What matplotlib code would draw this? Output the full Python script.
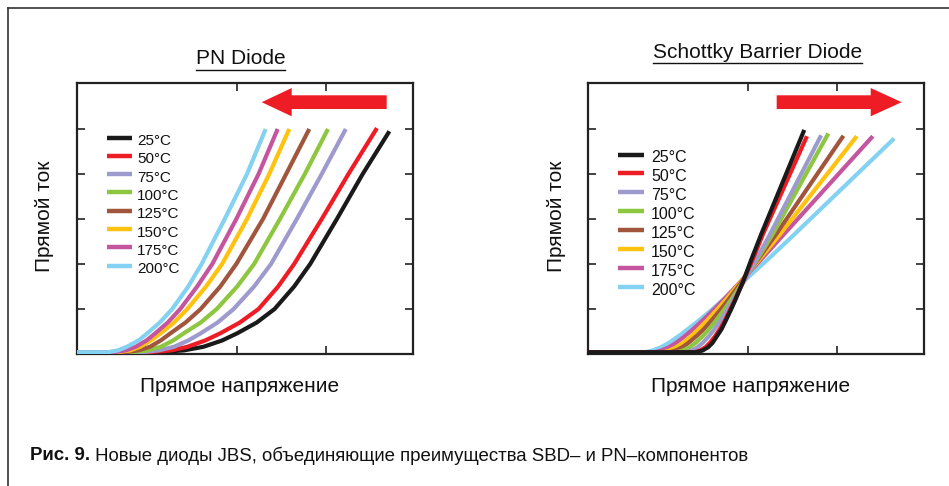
import matplotlib
matplotlib.use("Agg")
import matplotlib.pyplot as plt
from matplotlib.lines import Line2D
from matplotlib.patches import Polygon

W, H = 949, 486
plt.rcParams['font.family'] = ['Liberation Sans', 'DejaVu Sans']

temps = ["25°C", "50°C", "75°C", "100°C", "125°C", "150°C", "175°C", "200°C"]
colors = ["#1a1a1a", "#ee1c25", "#9d9ace", "#8dc63f", "#a0553c", "#ffc20e", "#c4559e", "#84d2f2"]

# PN diode: common current levels, forward voltage per temperature
pn_y = [0.04, 0.04, 0.08, 0.16, 0.3, 0.46, 0.7, 1.0, 1.5, 2.0, 3.0, 4.0, 5.0]
pn_x = {
    "25°C":  [0.2, 1.10, 1.40, 1.62, 1.83, 2.00, 2.22, 2.42, 2.64, 2.82, 3.12, 3.41, 3.71],
    "50°C":  [0.2, 1.00, 1.26, 1.44, 1.64, 1.81, 2.03, 2.24, 2.46, 2.64, 2.95, 3.25, 3.57],
    "75°C":  [0.2, 0.92, 1.12, 1.29, 1.45, 1.59, 1.78, 1.96, 2.19, 2.38, 2.67, 2.95, 3.22],
    "100°C": [0.2, 0.82, 0.99, 1.14, 1.28, 1.40, 1.59, 1.77, 2.00, 2.19, 2.48, 2.76, 3.02],
    "125°C": [0.2, 0.74, 0.89, 1.02, 1.14, 1.25, 1.42, 1.59, 1.81, 1.99, 2.29, 2.55, 2.81],
    "150°C": [0.2, 0.66, 0.80, 0.91, 1.03, 1.14, 1.29, 1.44, 1.65, 1.83, 2.11, 2.36, 2.585],
    "175°C": [0.2, 0.62, 0.75, 0.86, 0.98, 1.08, 1.22, 1.36, 1.55, 1.72, 1.99, 2.24, 2.455],
    "200°C": [0.2, 0.55, 0.66, 0.76, 0.89, 0.99, 1.13, 1.27, 1.45, 1.60, 1.86, 2.11, 2.32],
}
pn_top = {"25°C": 4.95, "50°C": 5.02}

# Schottky barrier diode
sbd_y = [0.04, 0.04, 0.08, 0.15, 0.25, 0.40, 0.55, 0.75, 1.0, 1.2, 1.6, 2.1, 2.68]
sbd_x = {
    "25°C":  [0.2, 1.42, 1.49, 1.55, 1.60, 1.65, 1.70, 1.75, 1.81, 1.855, 1.94, 2.035, 2.15, 2.63],
    "50°C":  [0.2, 1.40, 1.46, 1.52, 1.57, 1.63, 1.68, 1.74, 1.80, 1.85, 1.94, 2.05, 2.17, 2.66],
    "75°C":  [0.2, 1.30, 1.37, 1.43, 1.49, 1.56, 1.62, 1.69, 1.77, 1.83, 1.95, 2.09, 2.25, 2.82],
    "100°C": [0.2, 1.20, 1.27, 1.34, 1.41, 1.49, 1.56, 1.64, 1.735, 1.805, 1.94, 2.10, 2.28, 2.90],
    "125°C": [0.2, 1.12, 1.19, 1.26, 1.33, 1.42, 1.50, 1.59, 1.695, 1.775, 1.925, 2.11, 2.32, 3.07],
    "150°C": [0.2, 1.05, 1.12, 1.19, 1.27, 1.36, 1.44, 1.54, 1.655, 1.745, 1.915, 2.125, 2.365, 3.22],
    "175°C": [0.2, 0.95, 1.03, 1.11, 1.19, 1.29, 1.38, 1.49, 1.62, 1.72, 1.91, 2.145, 2.41, 3.40],
    "200°C": [0.2, 0.84, 0.93, 1.02, 1.11, 1.22, 1.32, 1.45, 1.60, 1.715, 1.94, 2.22, 2.53, 3.64],
}
sbd_top = {"25°C": 4.98, "50°C": 4.84, "75°C": 4.86, "100°C": 4.90,
           "125°C": 4.85, "150°C": 4.84, "175°C": 4.84, "200°C": 4.79}

x_ticks = [2, 3]
y_ticks = [1, 2, 3, 4, 5]
titles = ["PN Diode", "Schottky Barrier Diode"]
ylabel = "Прямой ток"
xlabel = "Прямое напряжение"
caption_bold = "Рис. 9."
caption_text = " Новые диоды JBS, объединяющие преимущества SBD– и PN–компонентов"

fig = plt.figure(figsize=(W / 100, H / 100), dpi=100)
fig.patch.set_facecolor("white")


def fx(x):
    return x / W


def fy(y):
    return 1 - y / H


def make_ax(left_px):
    ax = fig.add_axes([fx(left_px), fy(354), 336 / W, 271 / H])
    ax.set_xlim(0.2, 0.2 + 336 / 89)
    ax.set_ylim(0, 271 / 45)
    ax.set_xticks(x_ticks)
    ax.set_yticks(y_ticks)
    ax.tick_params(direction="in", length=6, width=1.2, top=True, right=True,
                   labelbottom=False, labelleft=False, color="#222222")
    for s in ax.spines.values():
        s.set_linewidth(1.6)
        s.set_color("#222222")
    return ax


ax1 = make_ax(77)
ax2 = make_ax(588)

for t, c in zip(temps, colors):
    ys = list(pn_y)
    ys[-1] = pn_top.get(t, 5.0)
    ax1.plot(pn_x[t], ys, color=c, lw=3.0, solid_capstyle="butt",
             solid_joinstyle="round", zorder=3)

for t, c in reversed(list(zip(temps, colors))):
    ys = sbd_y + [sbd_top[t]]
    ax2.plot(sbd_x[t], ys, color=c, lw=3.0, solid_capstyle="butt",
             solid_joinstyle="round", zorder=3)


# legends
def legend(x0, x1, xt, y0, dy, fs):
    for i, (t, c) in enumerate(zip(temps, colors)):
        yy = y0 + i * dy
        fig.add_artist(Line2D([fx(x0), fx(x1)], [fy(yy), fy(yy)], color=c, lw=3.2,
                              transform=fig.transFigure, solid_capstyle="butt"))
        fig.text(fx(xt), fy(yy + 3.5), t, fontsize=fs, ha="left", va="center", color="#111111")


legend(107, 132, 137, 137.5, 18.3, 11)
legend(618, 644, 651, 154.5, 18.9, 11.5)

# arrows
red = "#ee1c25"
arr_left = [(386.7, 95.3), (291.7, 95.3), (291.7, 88), (261.7, 102.2), (291.7, 116.3),
            (291.7, 109), (386.7, 109)]
arr_right = [(776.7, 95.3), (870.7, 95.3), (870.7, 88), (901.7, 102.2), (870.7, 116.3),
             (870.7, 109), (776.7, 109)]
for pts in (arr_left, arr_right):
    fig.add_artist(Polygon([(fx(a), fy(b)) for a, b in pts], closed=True,
                           transform=fig.transFigure, facecolor=red, edgecolor="none"))

# titles with underline
fig.canvas.draw()
renderer = fig.canvas.get_renderer()
for cx, cy, uy, t in ((240.5, 59, 70, titles[0]), (757.5, 52, 63.5, titles[1])):
    txt = fig.text(fx(cx), fy(cy), t, fontsize=15, ha="center", va="center", color="#111111")
    bb = txt.get_window_extent(renderer)
    fig.add_artist(Line2D([bb.x0 / W, bb.x1 / W], [fy(uy), fy(uy)], color="#111111", lw=1.0,
                          transform=fig.transFigure))

for cx in (45, 557):
    fig.text(fx(cx), fy(216), ylabel, fontsize=15, rotation=90, ha="center", va="center",
             color="#111111")
for cx in (240, 751):
    fig.text(fx(cx), fy(386), xlabel, fontsize=15, ha="center", va="center", color="#111111")

# caption
cap_family = ["Liberation Sans", "DejaVu Sans"]
t1 = fig.text(fx(30), fy(456), caption_bold, fontsize=13.4, fontweight="bold", ha="left",
              va="center", color="#111111", family=cap_family)
bb = t1.get_window_extent(renderer)
fig.text(bb.x1 / W, fy(456), caption_text, fontsize=13.4, ha="left", va="center",
         color="#111111", family=cap_family)

# frame (open on right and bottom)
fig.add_artist(Line2D([fx(7.5), fx(949)], [fy(8), fy(8)], color="#333333", lw=1.2,
                      transform=fig.transFigure))
fig.add_artist(Line2D([fx(7.5), fx(7.5)], [fy(8), fy(486)], color="#333333", lw=1.2,
                      transform=fig.transFigure))

fig.savefig("out.png", dpi=100, facecolor="white")
